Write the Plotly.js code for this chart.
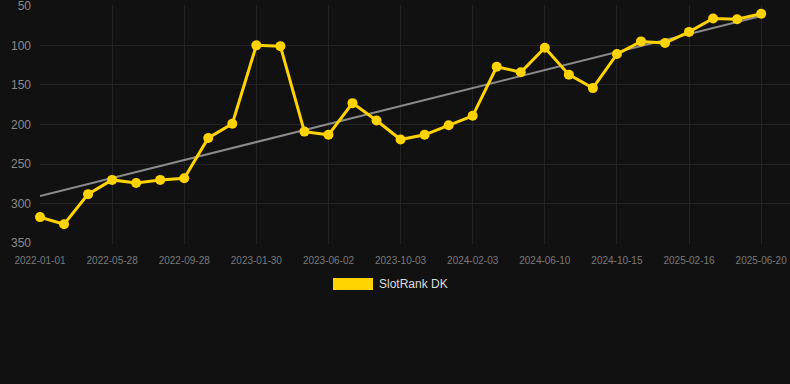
<!DOCTYPE html>
<html>
<head>
<meta charset="utf-8">
<script src="https://cdn.plot.ly/plotly-3.0.1.min.js"></script>
<style>
  html, body { margin: 0; padding: 0; background: #111111; }
  #chart { width: 790px; height: 384px; }
</style>
</head>
<body>
<div id="chart"></div>
<script>
// Rank values (lower = better), one per observation
const rankValues = [317, 326, 288, 270, 274, 270, 268, 217, 199, 100, 101,
                    209, 213, 173, 195, 219, 213, 201, 189, 127, 134, 103,
                    137, 154, 111, 95, 97, 83, 66, 67, 60];
// Date labels shown on the x axis (every third observation)
const tickLabels = ["2022-01-01", "2022-05-28", "2022-09-28", "2023-01-30",
                    "2023-06-02", "2023-10-03", "2024-02-03", "2024-06-10",
                    "2024-10-15", "2025-02-16", "2025-06-20"];
const tickStep = 3;
const seriesName = "SlotRank DK";
const yTicks = [50, 100, 150, 200, 250, 300, 350];

const xs = rankValues.map((_, i) => i);
const tickVals = tickLabels.map((_, i) => i * tickStep);

// Linear regression trend line
const n = rankValues.length;
const mx = xs.reduce((a, b) => a + b, 0) / n;
const my = rankValues.reduce((a, b) => a + b, 0) / n;
let sxy = 0, sxx = 0;
for (let i = 0; i < n; i++) { sxy += (xs[i] - mx) * (rankValues[i] - my); sxx += (xs[i] - mx) ** 2; }
const slope = sxy / sxx, icpt = my - slope * mx;
const trendX = [xs[0], xs[n - 1]];
const trendY = trendX.map(x => icpt + slope * x);

const traces = [
  { x: trendX, y: trendY, mode: "lines", line: { color: "#8a8a8a", width: 2 },
    showlegend: false, hoverinfo: "skip", cliponaxis: false },
  { x: xs, y: rankValues, mode: "lines+markers", name: seriesName,
    line: { color: "#FFD300", width: 3 },
    marker: { color: "#FFD300", size: 10 }, showlegend: false, cliponaxis: false }
];

const W = 790, H = 384, ml = 40, mr = 0, mt = 5, mb = 140;
const pw = W - ml - mr, ph = H - mt - mb;
const px = v => (v - ml) / pw;
const py = v => (H - mb - v) / ph;

const layout = {
  width: W, height: H,
  margin: { l: ml, r: mr, t: mt, b: mb, pad: 0 },
  paper_bgcolor: "#111111", plot_bgcolor: "#111111",
  font: { family: "Arial, 'Liberation Sans', sans-serif", color: "#888888" },
  xaxis: {
    range: [0, 31.2], tickvals: tickVals, ticktext: tickLabels,
    tickfont: { size: 10, color: "#7a7a7a" }, showgrid: true, gridcolor: "#242424",
    zeroline: false, showline: false, ticks: "", tickangle: 0, ticklabelstandoff: 9
  },
  yaxis: {
    range: [351, 49], tickvals: yTicks, tickfont: { size: 12, color: "#8a8a8a" },
    showgrid: true, gridcolor: "#242424", zeroline: false, showline: false, ticks: "",
    ticklabelstandoff: 8, ticklabeloverflow: "allow"
  },
  showlegend: false,
  shapes: [{ type: "rect", xref: "paper", yref: "paper",
    x0: px(333), x1: px(373), y0: py(290), y1: py(278),
    fillcolor: "#FFD300", line: { width: 0 } }],
  annotations: [{ xref: "paper", yref: "paper", x: px(377), y: py(284),
    xanchor: "left", yanchor: "middle", text: seriesName, showarrow: false,
    font: { size: 12, color: "#dddddd" } }]
};

Plotly.newPlot("chart", traces, layout, { staticPlot: true, displayModeBar: false });
</script>
</body>
</html>
